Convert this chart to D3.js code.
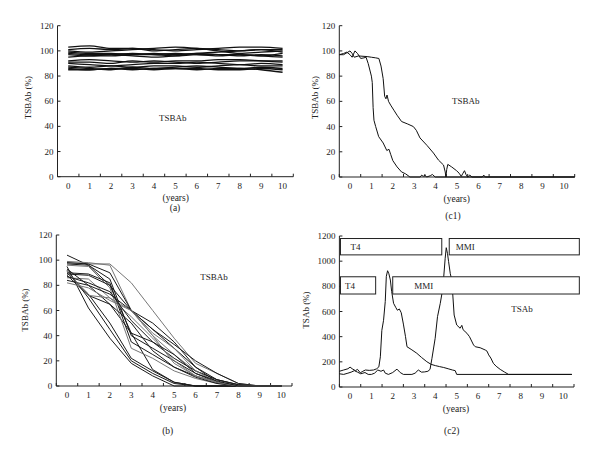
<!DOCTYPE html>
<html><head><meta charset="utf-8">
<script src="https://cdn.jsdelivr.net/npm/d3@7"></script>
<style>body{margin:0;background:#fff}svg{display:block}text{font-family:"Liberation Serif","DejaVu Serif",serif;fill:#222}</style>
</head><body><svg id="c" width="600" height="456"></svg>
<script>
const yearTicks = [0,1,2,3,4,5,6,7,8,9,10];
const pctTicks = [0,20,40,60,80,100,120];
const tsabTicks = [0,200,400,600,800,1000,1200];

// Panel (a): stable TSBAb, values at each year 0..10
const aSeries = [
 [103,104,102,102,100,101,102,101,100,101,101],
 [101,102,101,102,101,100,101,102,103,103,102],
 [100,99,100,101,102,103,102,100,98,99,100],
 [99,98,98,97,98,97,98,99,100,101,99],
 [98,97,97,98,97,96,97,97,97,96,98],
 [97,96,97,96,95,96,98,97,96,97,96],
 [95,96,96,97,97,98,97,96,97,96,95],
 [92,93,92,91,92,91,90,91,92,92,92],
 [91,91,90,92,91,92,92,93,93,92,91],
 [90,89,88,89,90,90,91,90,89,90,89],
 [88,87,88,87,88,88,87,88,89,88,88],
 [87,86,85,87,86,87,88,87,86,87,86],
 [86,85,86,85,86,86,86,85,85,86,85],
 [85,85,86,86,85,86,85,86,86,85,83]
];

// Panel (b): declining TSBAb, values at years 0..10
const bSeries = [
 [98,97,97,82,60,38,18,10,2,0,0],
 [104,96,80,60,45,33,20,10,2,0,0],
 [95,62,38,18,8,0,0,0,0,0,0],
 [92,70,45,20,10,2,0,0,0,0,0],
 [90,73,50,22,12,3,0,0,0,0,0],
 [88,72,65,42,13,3,0,0,0,0,0],
 [99,98,96,60,40,25,12,5,1,0,0],
 [98,97,90,60,45,30,15,5,1,0,0],
 [97,96,85,40,30,20,10,3,0,0,0],
 [96,95,78,30,22,12,6,2,0,0,0],
 [90,89,82,35,25,15,8,3,0,0,0],
 [89,88,80,42,35,22,12,5,1,0,0],
 [86,85,70,55,38,20,8,3,0,0,0],
 [84,80,65,50,28,15,7,2,0,0,0],
 [82,78,68,60,40,18,8,3,0,0,0],
 [93,80,73,60,50,35,15,3,0,0,0],
 [91,72,70,60,42,30,12,3,0,0,0],
 [87,82,75,52,35,25,10,4,0,0,0]
];
const bGrey = [0,6,9,12,14,16];

// Panel (c1): [year, TSBAb %]
const c1A = [[-0.5,97],[-0.3,98],[-0.15,99],[0.0,97],[0.1,95],[0.23,100],[0.35,98],[0.5,94],[0.65,94.5],[0.75,95],[0.85,90],[1.0,80],[1.04,75],[1.08,55],[1.12,45],[1.2,40],[1.34,32],[1.55,27],[1.72,21],[1.82,22],[1.9,18],[2.0,13],[2.2,8],[2.41,4],[2.6,2.5],[2.8,0],[3.28,0],[3.35,1.5],[3.42,0.5],[3.5,1.5],[3.58,0],[3.75,1],[3.85,2],[3.98,0],[10.5,0]];
const c1B = [[-0.5,97],[-0.3,97],[-0.1,99],[0.0,100],[0.1,98],[0.2,95],[0.4,96],[0.8,95.5],[1.0,95],[1.2,94.5],[1.35,94],[1.45,88],[1.55,78],[1.62,64],[1.68,62],[1.73,65],[1.8,60],[1.9,57],[2.05,53],[2.2,49],[2.41,44],[2.7,42],[2.96,40],[3.1,37],[3.27,31],[3.6,25],[3.9,19],[4.13,13.5],[4.37,9.5],[4.45,4],[4.48,0],[4.52,6],[4.57,10],[4.75,8],[4.98,5],[5.1,3],[5.2,0.5],[5.28,3],[5.35,5],[5.42,2],[5.5,0],[5.6,1.5],[5.7,0],[6.18,0],[6.25,1.5],[6.32,0],[10.5,0]];

// Panel (c2): [year, TSAb %]
const c2P = [[-0.5,125],[-0.3,135],[-0.1,145],[0.0,158],[0.1,145],[0.25,130],[0.35,140],[0.48,113],[0.6,125],[0.72,135],[0.9,132],[1.1,135],[1.25,145],[1.35,160],[1.42,240],[1.49,450],[1.57,530],[1.65,680],[1.7,880],[1.76,924],[1.82,900],[1.89,850],[1.95,760],[2.04,665],[2.15,630],[2.22,610],[2.31,620],[2.4,590],[2.5,500],[2.6,400],[2.67,320],[2.9,295],[3.13,268],[3.35,235],[3.6,201],[3.8,180],[4.0,170],[4.2,162],[4.39,155],[4.6,145],[4.8,135],[4.93,130],[5.0,100],[10.4,100]];
const c2Q = [[-0.5,105],[-0.3,100],[-0.1,110],[0.05,118],[0.2,130],[0.35,118],[0.5,105],[0.7,115],[0.85,100],[1.0,100],[1.15,110],[1.3,135],[1.45,125],[1.57,135],[1.65,110],[1.8,100],[2.0,115],[2.2,142],[2.35,115],[2.5,100],[2.9,100],[3.05,110],[3.2,135],[3.35,118],[3.5,120],[3.65,125],[3.75,140],[3.84,228],[3.99,387],[4.1,559],[4.23,665],[4.35,785],[4.46,1023],[4.51,1107],[4.57,1060],[4.62,996],[4.7,900],[4.77,850],[4.88,572],[5.0,493],[5.16,467],[5.24,490],[5.3,455],[5.48,427],[5.6,400],[5.79,334],[5.87,320],[6.1,312],[6.34,294],[6.42,285],[6.5,255],[6.6,230],[6.72,188],[6.85,165],[7.04,140],[7.25,118],[7.43,100],[10.4,100]];

// Treatment periods in (c2): label, start year, end year, low, high (TSAb %)
const treatLabels = ["T4","MMI","T4","MMI"];
const treatStart = [-0.45,4.65,-0.45,2.0];
const treatEnd = [4.3,10.75,1.2,10.75];
const treatLow = [1050,1050,739,739];
const treatHigh = [1180,1180,876,876];

const svg = d3.select("#c");

function panel(o){
  const g = svg.append("g");
  const x = d3.scaleLinear().domain([-0.5,10.5]).range([o.x0,o.x1]);
  const y = d3.scaleLinear().domain([0,o.ymax]).range([o.y0,o.y1]);
  // axes
  g.append("line").attr("x1",o.x0).attr("x2",o.x0).attr("y1",y(0)).attr("y2",y(o.ymax)).attr("stroke","#222").attr("stroke-width",1);
  g.append("line").attr("x1",o.x0).attr("x2",o.x1).attr("y1",y(0)).attr("y2",y(0)).attr("stroke","#222").attr("stroke-width",1);
  o.yticks.forEach(v=>{
    g.append("line").attr("x1",o.x0).attr("x2",o.x0+3).attr("y1",y(v)).attr("y2",y(v)).attr("stroke","#222");
    g.append("text").attr("x",o.x0-4).attr("y",y(v)+3).attr("text-anchor","end").attr("font-size",9).text(v);
  });
  d3.range(-0.5,10.6,1).forEach(v=>{
    g.append("line").attr("x1",x(v)).attr("x2",x(v)).attr("y1",y(0)).attr("y2",y(0)-3).attr("stroke","#222");
  });
  yearTicks.forEach(v=>{
    g.append("text").attr("x",x(v)).attr("y",y(0)+12).attr("text-anchor","middle").attr("font-size",9).text(v);
  });
  g.append("text").attr("x",o.xl).attr("y",y(0)+24.5).attr("text-anchor","middle").attr("font-size",9.5).text("(years)");
  g.append("text").attr("x",o.pl).attr("y",o.py).attr("text-anchor","middle").attr("font-size",9.5).text(o.tag);
  g.append("text").attr("transform",`translate(${o.lx},${o.ly}) rotate(-90)`).attr("text-anchor","middle").attr("font-size",9).text(o.ylab);
  g.append("text").attr("x",o.tx).attr("y",o.ty).attr("text-anchor","middle").attr("font-size",9).text(o.title);
  return {g,x,y};
}

// (a)
{
  const p = panel({x0:57.5,x1:293.3,y0:176.7,y1:25.7,ymax:120,yticks:pctTicks,xl:175.7,pl:175,py:210.5,tag:"(a)",lx:30.5,ly:97.7,ylab:"TSBAb (%)",tx:172.7,ty:121,title:"TSBAb"});
  const line = d3.line().x((d,i)=>p.x(yearTicks[i])).y(d=>p.y(d)).curve(d3.curveMonotoneX);
  p.g.selectAll(".la").data(aSeries).join("path").attr("d",line).attr("fill","none").attr("stroke","#111").attr("stroke-width",1.3);
}
// (c1)
{
  const p = panel({x0:339.3,x1:574.7,y0:177,y1:25.7,ymax:120,yticks:pctTicks,xl:456.7,pl:453,py:219,tag:"(c1)",lx:317.5,ly:97.7,ylab:"TSBAb (%)",tx:465.7,ty:104,title:"TSBAb"});
  const line = d3.line().x(d=>p.x(d[0])).y(d=>p.y(d[1]));
  [c1A,c1B].forEach(s=>p.g.append("path").attr("d",line(s)).attr("fill","none").attr("stroke","#111").attr("stroke-width",1));
}
// (b)
{
  const p = panel({x0:56.3,x1:292,y0:386,y1:235,ymax:120,yticks:pctTicks,xl:173,pl:167.7,py:433.5,tag:"(b)",lx:27.5,ly:310,ylab:"TSBAb (%)",tx:214,ty:280,title:"TSBAb"});
  const line = d3.line().x((d,i)=>p.x(yearTicks[i])).y(d=>p.y(d));
  bSeries.forEach((s,i)=>p.g.append("path").attr("d",line(s)).attr("fill","none").attr("stroke",bGrey.includes(i)?"#777":"#1a1a1a").attr("stroke-width",1));
}
// (c2)
{
  const p = panel({x0:339.4,x1:574,y0:387,y1:236,ymax:1200,yticks:tsabTicks,xl:456,pl:451.7,py:434,tag:"(c2)",lx:308.5,ly:310,ylab:"TSAb (%)",tx:522,ty:312,title:"TSAb"});
  const line = d3.line().x(d=>p.x(d[0])).y(d=>p.y(d[1]));
  [c2P,c2Q].forEach(s=>p.g.append("path").attr("d",line(s)).attr("fill","none").attr("stroke","#111").attr("stroke-width",1));
  treatLabels.forEach((lab,i)=>{
    const x0=p.x(treatStart[i]), x1=p.x(treatEnd[i]), yt=p.y(treatHigh[i]), yb=p.y(treatLow[i]);
    p.g.append("rect").attr("x",x0).attr("y",yt).attr("width",x1-x0).attr("height",yb-yt).attr("fill","#fff").attr("stroke","#222").attr("stroke-width",1);
    const off = i===2 ? 4.5 : (i===3 ? 21.5 : (i===0 ? 10 : 6.5));
    p.g.append("text").attr("x",x0+off).attr("y",(yt+yb)/2+3.3).attr("font-size",9).text(lab);
  });
}
</script></body></html>
